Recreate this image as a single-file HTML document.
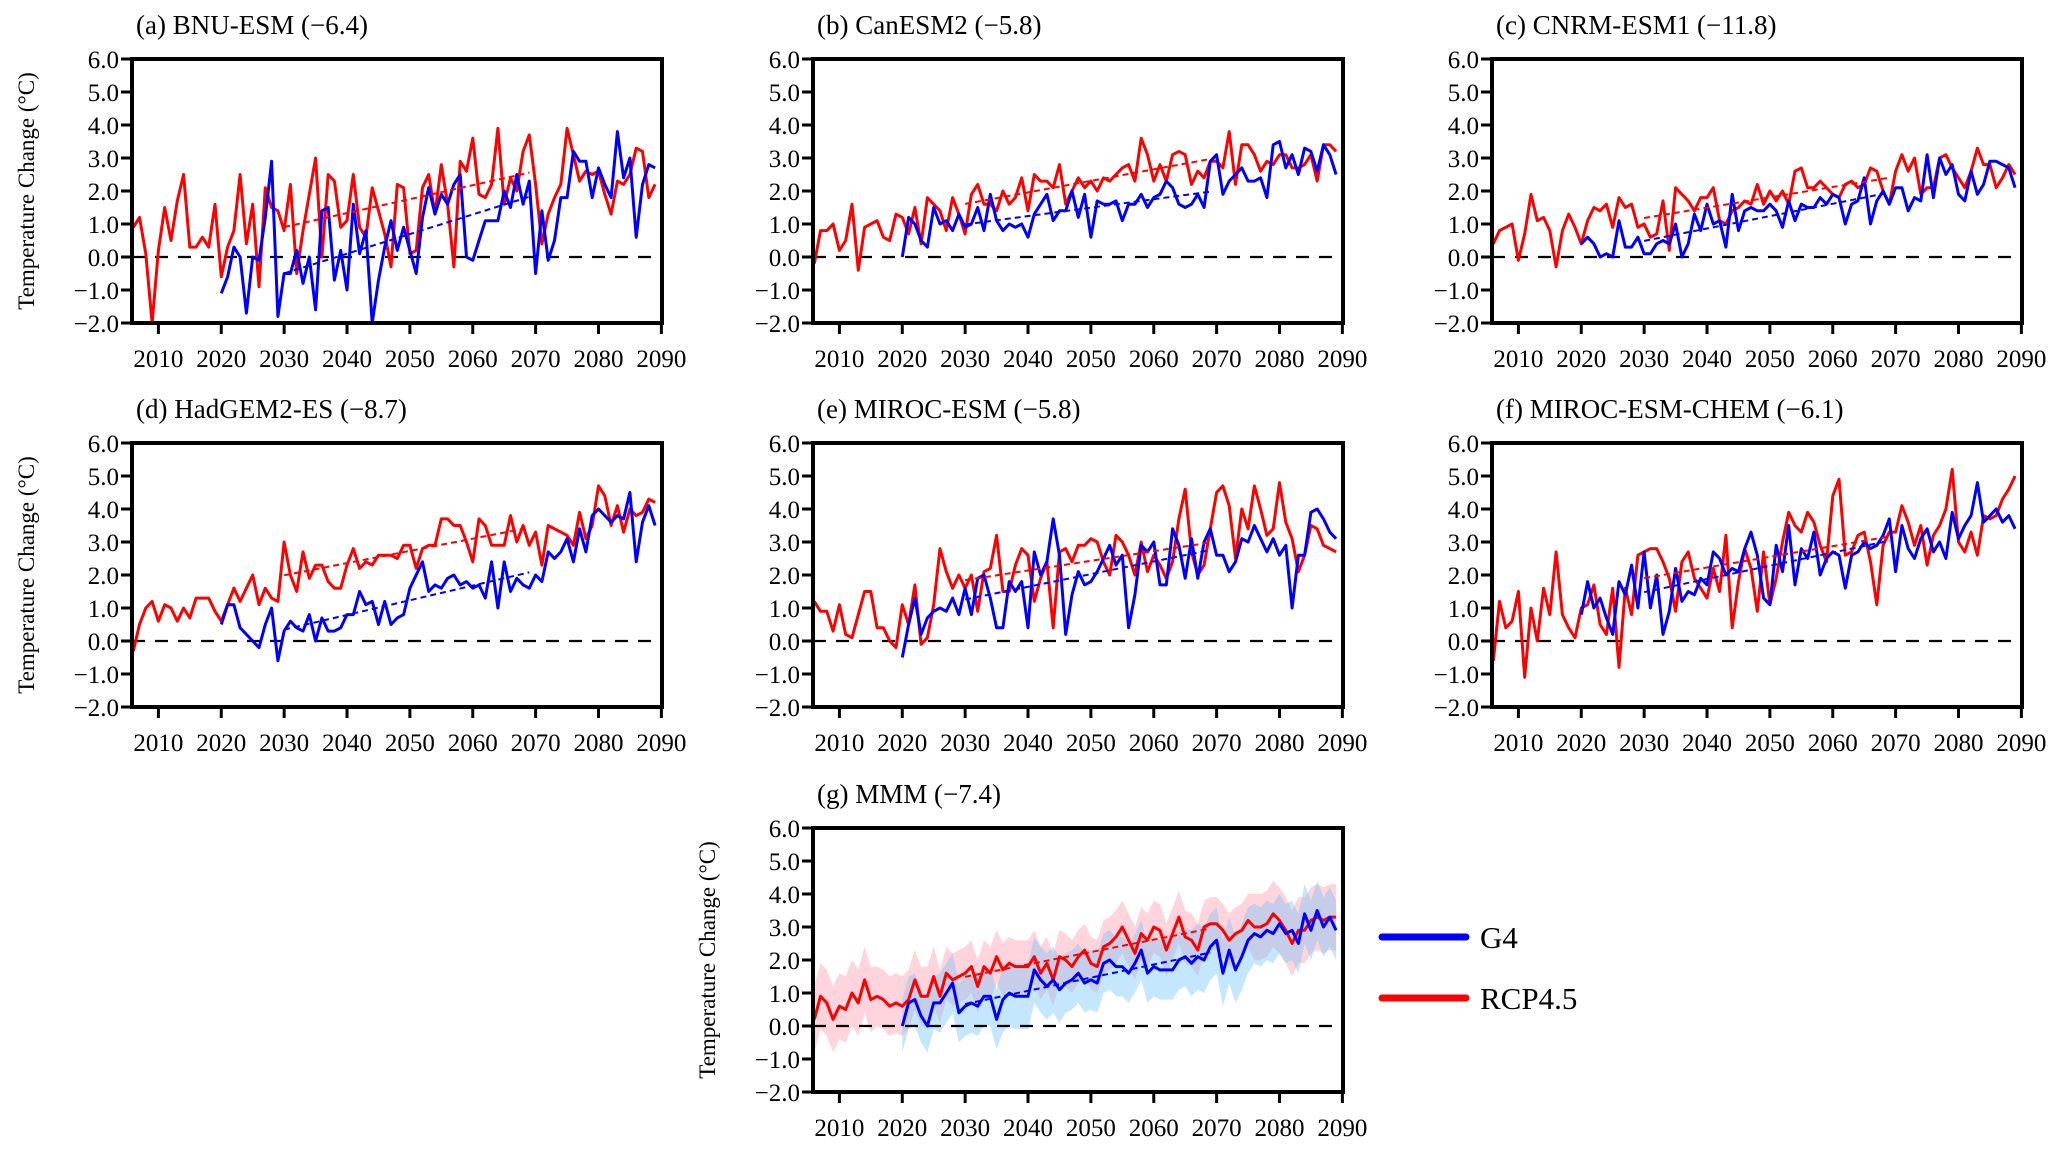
<!DOCTYPE html>
<html><head><meta charset="utf-8">
<style>
html,body{margin:0;padding:0;background:#fff;}
svg{display:block;font-family:"Liberation Serif","DejaVu Serif",serif;}
</style></head>
<body>
<svg id="fig" width="2067" height="1155" viewBox="0 0 2067 1155" xmlns="http://www.w3.org/2000/svg">
<g>
<line x1="1382" y1="937" x2="1466" y2="937" stroke="#0000ff" stroke-width="7" stroke-linecap="round"/>
<text x="1480" y="948" font-size="31">G4</text>
<line x1="1382" y1="998" x2="1466" y2="998" stroke="#ff0000" stroke-width="7" stroke-linecap="round"/>
<text x="1480" y="1009" font-size="31">RCP4.5</text>
</g>
</svg>
<script>
const yTicks=[6,5,4,3,2,1,0,-1,-2];
const xTicks=[2010,2020,2030,2040,2050,2060,2070,2080,2090];
const redStart=2006, blueStart=2020;
const titles=["(a) BNU-ESM (\u22126.4)","(b) CanESM2 (\u22125.8)","(c) CNRM-ESM1 (\u221211.8)","(d) HadGEM2-ES (\u22128.7)","(e) MIROC-ESM (\u22125.8)","(f) MIROC-ESM-CHEM (\u22126.1)","(g) MMM (\u22127.4)"];
const redA=[0.9,1.2,0.1,-2.0,0.2,1.5,0.5,1.7,2.5,0.3,0.3,0.6,0.3,1.6,-0.6,0.3,0.8,2.5,0.4,1.6,-0.9,2.1,1.5,1.4,0.8,2.2,-0.5,0.8,1.9,3.0,0.0,2.5,2.3,0.9,1.1,2.5,0.9,0.6,2.1,1.4,0.7,-0.3,2.2,2.1,0.1,0.2,2.1,2.5,1.3,2.8,1.6,-0.3,2.9,2.6,3.6,1.9,1.8,2.2,3.9,1.6,2.4,2.0,3.2,3.7,2.2,0.4,1.3,1.8,2.2,3.9,3.1,2.3,2.6,2.5,2.6,1.9,1.3,2.3,2.2,2.5,3.3,3.2,1.8,2.2];
const blueA=[-1.1,-0.6,0.3,0.0,-1.7,0.0,-0.1,1.2,2.9,-1.8,-0.5,-0.5,0.2,-0.8,0.0,-1.6,1.4,1.5,-0.7,0.2,-1.0,1.6,0.1,0.8,-2.0,-0.7,0.3,1.1,0.2,0.9,0.2,-0.5,1.2,2.1,1.3,1.9,1.6,2.2,2.5,0.0,-0.1,0.5,1.1,1.1,1.1,2.0,1.5,2.5,1.6,2.3,-0.5,1.4,-0.1,0.5,1.8,1.8,3.2,2.9,2.9,1.8,2.7,2.2,1.8,3.8,2.4,3.0,0.6,2.2,2.8,2.7];
const redB=[-0.2,0.8,0.8,1.0,0.2,0.5,1.6,-0.4,0.9,1.0,1.1,0.6,0.5,1.3,1.2,0.7,1.5,0.4,1.8,1.6,1.4,0.8,1.8,1.3,0.7,1.9,2.2,1.6,1.6,1.4,2.0,1.6,1.8,2.4,1.4,2.5,2.3,2.3,2.1,2.8,1.6,2.0,2.4,2.1,2.3,2.0,2.4,2.3,2.5,2.7,2.8,2.3,3.6,3.1,2.3,2.8,2.3,3.1,3.2,3.1,2.2,2.6,2.4,2.9,2.9,2.7,3.8,2.2,3.4,3.4,3.1,2.6,2.9,2.8,3.1,3.1,2.7,2.7,2.8,3.1,2.3,3.4,3.4,3.2];
const blueB=[0.0,1.2,1.0,0.5,0.3,1.5,1.0,1.1,0.8,1.3,0.9,1.0,1.5,0.8,1.9,1.1,0.8,1.0,0.9,1.0,0.6,1.3,1.6,1.9,1.1,1.4,1.4,2.0,1.2,1.9,0.6,1.7,1.6,1.6,1.7,1.1,1.6,1.6,1.9,1.5,1.8,1.9,2.3,2.1,1.6,1.5,1.6,1.9,1.5,2.9,3.1,1.9,2.3,2.5,2.7,2.3,2.3,2.4,1.8,3.4,3.5,2.7,3.1,2.5,3.3,3.2,2.6,3.4,3.1,2.5];
const redC=[0.4,0.8,0.9,1.0,-0.1,0.7,1.9,1.1,1.2,0.8,-0.3,0.8,1.3,0.9,0.4,1.1,1.5,1.4,1.6,0.9,1.8,1.5,1.6,0.9,1.0,0.6,0.7,1.7,0.2,2.1,1.9,1.7,1.4,1.8,1.8,2.1,1.1,1.0,1.4,1.5,1.7,1.6,2.2,1.6,2.0,1.7,2.0,1.6,2.6,2.7,2.1,2.1,2.3,2.1,1.9,1.8,2.2,2.3,2.1,2.2,2.7,2.6,2.0,1.6,2.6,3.1,2.6,3.0,1.9,2.1,2.1,3.0,3.1,2.7,2.4,2.1,2.6,3.3,2.8,2.8,2.1,2.4,2.8,2.5];
const blueC=[0.4,0.6,0.4,0.0,0.1,0.0,1.1,0.3,0.3,0.6,0.1,0.1,0.4,0.5,0.4,1.0,0.0,0.4,1.3,0.8,1.6,1.0,1.1,0.3,1.9,0.8,1.4,1.5,1.4,1.4,1.6,1.4,0.9,1.7,1.1,1.6,1.5,1.5,1.8,1.6,1.9,1.8,1.0,1.6,1.7,2.4,1.0,1.7,2.0,1.6,2.1,2.1,1.4,1.8,1.7,3.1,1.8,3.0,2.5,2.8,1.9,1.7,2.6,1.9,2.2,2.9,2.9,2.8,2.7,2.1];
const redD=[-0.3,0.5,1.0,1.2,0.6,1.1,1.0,0.6,1.0,0.7,1.3,1.3,1.3,0.9,0.6,1.1,1.6,1.2,1.6,2.0,1.1,1.6,1.3,1.2,3.0,2.0,1.5,2.7,1.9,2.3,2.3,1.8,1.6,1.6,2.3,2.8,2.2,2.4,2.3,2.6,2.6,2.6,2.5,2.9,2.9,2.2,2.8,2.9,2.9,3.7,3.7,3.5,3.5,3.0,2.4,3.7,3.5,2.9,2.9,2.9,3.8,3.0,3.5,2.9,3.3,2.3,3.5,3.4,3.3,3.2,2.9,3.9,3.1,3.5,4.7,4.4,3.5,4.1,3.3,4.0,3.8,3.9,4.3,4.2];
const blueD=[0.5,1.1,1.1,0.4,0.2,0.0,-0.2,0.5,1.0,-0.6,0.3,0.6,0.4,0.3,0.8,0.0,0.7,0.3,0.3,0.4,0.8,0.8,1.5,1.1,1.2,0.5,1.2,0.5,0.7,0.8,1.6,2.0,2.4,1.5,1.7,1.6,1.9,2.0,1.7,1.8,1.6,1.7,1.3,2.4,1.0,2.4,1.5,1.9,1.7,1.6,2.0,1.8,2.7,2.5,2.7,3.1,2.4,3.4,2.7,3.8,4.0,3.8,3.6,3.8,3.7,4.5,2.4,3.6,4.1,3.5];
const redE=[1.2,0.9,0.9,0.3,1.1,0.2,0.1,0.8,1.5,1.5,0.4,0.4,0.0,-0.2,1.1,0.5,1.7,-0.1,0.1,1.1,2.8,2.1,1.6,2.0,1.6,2.0,0.9,2.1,2.2,3.2,1.5,1.5,2.3,2.8,2.6,1.2,1.9,2.4,0.4,2.7,2.8,2.4,2.9,2.9,3.1,3.0,2.4,2.0,3.2,3.0,2.6,2.0,3.0,2.1,2.6,2.3,1.9,2.4,3.7,4.6,2.7,2.0,2.3,3.4,4.5,4.7,4.1,2.5,4.0,3.4,4.7,4.0,3.2,3.4,4.8,3.6,3.1,2.1,2.6,3.5,3.4,2.9,2.8,2.7];
const blueE=[-0.5,0.5,1.3,0.2,0.7,0.9,1.0,0.9,1.3,0.8,1.6,0.8,1.9,2.0,1.3,0.4,0.4,1.8,1.5,1.8,0.4,2.7,2.0,2.4,3.7,2.6,0.2,1.4,2.1,1.7,1.8,2.1,2.5,2.9,2.3,2.6,0.4,1.4,2.9,2.7,3.0,1.7,1.7,3.4,2.9,1.9,3.1,1.9,3.0,3.4,2.6,2.6,2.1,2.4,3.1,3.0,3.5,3.1,2.7,3.1,2.6,2.9,1.0,2.6,2.6,3.9,4.0,3.7,3.3,3.1];
const redF=[-0.6,1.2,0.4,0.6,1.5,-1.1,1.0,0.0,1.6,0.8,2.7,0.8,0.4,0.1,1.0,1.1,1.7,0.5,0.2,1.6,-0.8,1.6,0.8,2.6,2.7,2.8,2.8,2.4,1.9,0.9,2.4,2.7,1.9,1.6,1.3,2.2,1.5,3.2,0.4,1.8,2.8,2.2,0.9,2.7,1.1,1.9,3.0,3.9,3.5,3.3,3.9,3.6,2.9,2.4,4.4,4.9,2.6,2.7,3.2,3.3,2.4,1.1,2.9,3.3,3.3,4.1,3.6,2.9,3.5,2.3,3.2,3.5,4.0,5.2,3.0,2.7,3.3,2.6,3.8,3.7,3.8,4.3,4.6,5.0];
const blueF=[0.8,1.8,1.0,1.3,0.7,0.2,1.8,1.4,2.3,1.0,2.7,1.0,2.0,0.2,0.9,2.2,1.2,1.5,1.4,1.9,1.7,2.7,2.5,2.0,2.2,2.1,2.8,3.3,2.6,1.3,1.1,2.9,2.1,3.5,1.7,2.8,2.5,3.3,2.0,2.5,2.7,2.6,1.6,2.6,2.7,3.0,2.8,2.9,3.2,3.7,2.1,3.5,2.8,2.5,3.1,3.4,2.7,3.0,2.5,3.9,3.1,3.5,3.8,4.8,3.6,3.8,4.0,3.6,3.8,3.4];
const redG=[0.2,0.9,0.7,0.2,0.6,0.5,1.0,0.7,1.4,0.8,0.9,0.8,0.6,0.7,0.6,0.8,1.4,0.9,0.9,1.5,0.9,1.6,1.4,1.5,1.6,1.8,1.2,1.8,1.6,2.1,1.7,1.9,1.8,1.8,1.8,2.1,1.6,1.9,1.4,2.1,2.0,1.8,2.1,2.3,1.9,1.8,2.4,2.5,2.7,3.0,2.6,2.2,2.8,2.6,3.0,2.9,2.3,2.8,3.3,2.7,2.6,2.3,3.0,3.1,3.1,2.9,2.6,2.8,2.9,3.2,3.0,3.0,3.1,3.4,3.2,2.9,2.5,2.9,2.9,3.2,3.3,3.2,3.3,3.3];
const blueG=[0.0,0.7,0.8,0.3,0.0,0.7,0.7,1.0,1.3,0.4,0.6,0.7,0.6,0.9,0.9,0.2,0.8,1.0,0.9,0.9,0.9,1.7,1.4,1.2,1.4,1.1,1.3,1.4,1.6,1.3,1.4,1.3,1.9,2.0,1.8,1.8,1.6,1.9,2.3,1.6,1.8,1.7,1.7,1.7,2.0,2.1,1.9,2.1,2.0,2.4,2.6,1.6,2.3,1.7,2.1,2.6,2.8,2.7,2.9,2.8,3.1,2.8,2.9,2.5,3.4,2.9,3.5,3.0,3.3,2.9];
const redBandDecade=[1.0,0.9,0.8,0.8,0.8,0.8,0.8,1.0,1.0];
const blueBandDecade=[0.8,0.8,0.9,1.0,0.9,0.9,1.0,0.9,0.9];

const svg=document.getElementById('fig');
const NS='http://www.w3.org/2000/svg';
function mk(tag,attrs,parent){const e=document.createElementNS(NS,tag);for(const k in attrs)e.setAttribute(k,attrs[k]);(parent||svg).appendChild(e);return e;}
const W=530,H=264,X0=2005.8,X1=2090.1,YMIN=-2,YMAX=6;
const panels=[
 {l:132,t:59,r:redA,b:blueA,yt:true},
 {l:813,t:59,r:redB,b:blueB,yt:false},
 {l:1492,t:59,r:redC,b:blueC,yt:false},
 {l:132,t:443,r:redD,b:blueD,yt:true},
 {l:813,t:443,r:redE,b:blueE,yt:false},
 {l:1492,t:443,r:redF,b:blueF,yt:false},
 {l:813,t:828,r:redG,b:blueG,yt:true,band:true}];
function fit(arr,start){let n=0,sx=0,sy=0,sxx=0,sxy=0;for(let i=0;i<arr.length;i++){const yr=start+i;if(yr<2030||yr>2069)continue;n++;sx+=yr;sy+=arr[i];sxx+=yr*yr;sxy+=yr*arr[i];}const m=(n*sxy-sx*sy)/(n*sxx-sx*sx);const c=(sy-m*sx)/n;return [m,c];}
panels.forEach((p,pi)=>{
 const g=mk('g',{});
 
 
 const xs=v=>p.l+(v-X0)/(X1-X0)*W;
 const ys=v=>p.t+(YMAX-v)/(YMAX-YMIN)*H;
 const cp='cp'+pi;
 const defs=mk('defs',{},g);const c=mk('clipPath',{id:cp},defs);mk('rect',{x:p.l,y:p.t,width:W,height:H},c);
 const tt=mk('text',{x:p.l+4,y:p.t-25,'font-size':27},g);tt.textContent=titles[pi];
 
 
 if(p.band){
  const bandPath=(arr,start,dec)=>{let up=[],lo=[];arr.forEach((v,i)=>{const yr=start+i;const s=dec[Math.min(8,Math.floor((yr-2006)/10))];up.push(xs(yr)+','+ys(v+s));lo.unshift(xs(yr)+','+ys(v-s));});return 'M'+up.join('L')+'L'+lo.join('L')+'Z';};
  const rb=mk('path',{d:bandPath(p.r,redStart,redBandDecade),fill:'rgba(255,170,185,0.5)','clip-path':'url(#'+cp+')'},g);
  
  
  const bb=mk('path',{d:bandPath(p.b,blueStart,blueBandDecade),fill:'rgba(110,195,250,0.4)','clip-path':'url(#'+cp+')'},g);
  
  
 }
 const z=mk('line',{x1:p.l,x2:p.l+W,y1:ys(0),y2:ys(0),stroke:'#000','stroke-width':2.2,'stroke-dasharray':'13,10'},g);
 
 
 const line=(arr,start,col,name)=>{const d=arr.map((v,i)=>(i?'L':'M')+xs(start+i).toFixed(1)+','+ys(v).toFixed(1)).join('');const e=mk('path',{d:d,fill:'none',stroke:col,'stroke-width':3,'stroke-linejoin':'round','clip-path':'url(#'+cp+')'},g);
  
  };
 line(p.r,redStart,'#ff0000','rcp45-line');
 line(p.b,blueStart,'#0000ff','g4-line');
 const tr=(arr,start,col,name)=>{const [m,c0]=fit(arr,start);const e=mk('line',{x1:xs(2030),x2:xs(2069),y1:ys(m*2030+c0),y2:ys(m*2069+c0),stroke:col,'stroke-width':2,'stroke-dasharray':'6,4'},g);
  
  };
 tr(p.r,redStart,'#ff0000','rcp45-trend-line');
 tr(p.b,blueStart,'#0000ff','g4-trend-line');
 const box=mk('rect',{x:p.l,y:p.t,width:W,height:H,fill:'none',stroke:'#000','stroke-width':4},g);
 
 
 yTicks.forEach(v=>{mk('line',{x1:p.l-11,x2:p.l,y1:ys(v),y2:ys(v),stroke:'#000','stroke-width':3},g);
  const t=mk('text',{x:p.l-13,y:ys(v)+9,'font-size':25,'text-anchor':'end'},g);t.textContent=(v<0?'\u2212':'')+Math.abs(v).toFixed(1);
  
  });
 xTicks.forEach(v=>{mk('line',{x1:xs(v),x2:xs(v),y1:p.t+H,y2:p.t+H+11,stroke:'#000','stroke-width':3},g);
  const t=mk('text',{x:xs(v),y:p.t+H+44,'font-size':25,'text-anchor':'middle'},g);t.textContent=v;
  
  });
 if(p.yt){const t=mk('text',{x:0,y:0,'font-size':23,'text-anchor':'middle',transform:'translate('+(p.l-98)+','+(p.t+H/2)+') rotate(-90)'},g);t.textContent='Temperature Change (\u00B0C)';
  
  }
});
</script>
</body></html>
